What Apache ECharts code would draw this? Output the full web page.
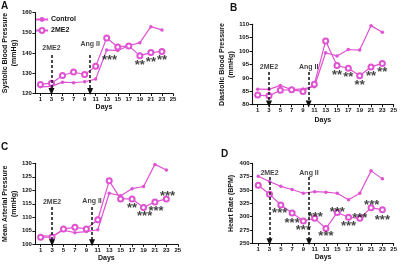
<!DOCTYPE html>
<html>
<head>
<meta charset="utf-8">
<script src="https://cdn.jsdelivr.net/npm/echarts@6/dist/echarts.min.js"></script>
<style>
html,body{margin:0;padding:0;background:#fff;}
#chart{width:400px;height:265px;}
</style>
</head>
<body>
<div id="chart"></div>
<script>
// days of measurement, and x tick labels
var days = [1, 3, 5, 7, 9, 11, 13, 15, 17, 19, 21, 23];
var dayTicks = [1, 3, 5, 7, 9, 11, 13, 15, 17, 19, 21, 23, 25];

/** A - systolic */
var sbpControl = [123.3, 123.5, 125.6, 125.3, 125.8, 127.1, 141.5, 141.2, 143.6, 145.1, 153.0, 151.4];
var sbp2ME2 = [124.5, 125.1, 128.9, 130.6, 129.4, 133.4, 147.4, 143.0, 143.5, 138.7, 140.2, 140.8];
/** B - diastolic */
var dbpControl = [85.8, 85.7, 87.2, 85.6, 85.9, 86.7, 99.4, 98.2, 100.6, 100.4, 109.5, 107.0];
var dbp2ME2 = [83.6, 83.3, 85.4, 85.6, 84.9, 87.6, 103.8, 94.6, 93.6, 90.8, 94.1, 95.4];
/** C - mean arterial */
var mapControl = [103.1, 103.0, 105.2, 104.3, 104.7, 105.4, 118.9, 118.0, 120.6, 121.4, 129.6, 127.5];
var map2ME2 = [102.6, 102.7, 105.7, 106.3, 105.7, 109.1, 123.5, 116.8, 116.8, 113.6, 115.7, 116.8];
/** D - heart rate */
var hrControl = [376, 366, 357, 351, 344, 347, 346, 344, 332, 344, 386, 371];
var hr2ME2 = [359, 342, 322, 307, 292, 297, 278, 308, 299, 297, 317, 313];

// significance marks [day, value, text]
var sigA = [[13.5, 137.9, '***'], [19, 135.4, '**'], [21, 137.0, '**'], [23, 137.9, '**']];
var sigB = [[15, 92.3, '**'], [17, 91.4, '**'], [19, 88.3, '**'], [21, 91.8, '**'], [23, 93.2, '**']];
var sigC = [[17, 114.3, '**'], [19.2, 111.5, '***'], [21.2, 113.2, '***'], [23.2, 118.9, '***']];
var sigD = [[4.8, 312.6, '***'], [7, 293.9, '***'], [9, 279.4, '***'], [11.1, 305.0, '***'], [13, 268.9, '***'],
            [15, 314.5, '***'], [17, 287.6, '***'], [19, 303.2, '***'], [21.1, 326.3, '***'], [23, 298.9, '***']];

// treatments: day and name
var treatDays = [3, 10];
var treatNames = ['2ME2', 'Ang II'];
// per panel: text value for each treatment, arrow top, arrow tip
var treatTextY = [[142.6, 144.6], [94.2, 94.2], [115.8, 116.0], [381.4, 381.4]];
var arrowTop = [139, 92.2, 113.8, 374.5];
var arrowTip = [121.0, 80.3, 100.6, 253];

var panelNames = ['A', 'B', 'C', 'D'];
var yTitles = ['Systolic Blood Pressure\n(mmHg)', 'Diastolic Blood Pressure\n(mmHg)', 'Mean Arterial Pressure\n(mmHg)', 'Heart Rate (BPM)'];
var yMin = [120, 80, 100, 250];
var yMax = [160, 110, 130, 400];
var yStep = [10, 5, 5, 25];

var controls = [sbpControl, dbpControl, mapControl, hrControl];
var treated = [sbp2ME2, dbp2ME2, map2ME2, hr2ME2];
var sigs = [sigA, sigB, sigC, sigD];

var pink = '#e052d2';
var font = 'Liberation Sans, Arial, sans-serif';

var grids = [
    {left: 32, top: 12.5, width: 141, height: 81},
    {left: 252, top: 24.3, width: 144, height: 80.4},
    {left: 34.3, top: 163.3, width: 143.5, height: 81},
    {left: 252.6, top: 163.4, width: 142.5, height: 80}
];
var yNameGap = [14, 16, 16, 15];
var xNameGap = [10, 12, 10, 10];
var titlePos = [[1, 1], [230, 3], [1, 142], [221, 149]];

function pairs(arr) {
    var res = [];
    for (var i = 0; i < days.length; i++) res.push([days[i], arr[i]]);
    return res;
}

var xAxes = [], yAxes = [], series = [], titles = [];
for (var p = 0; p < 4; p++) {
    titles.push({
        text: panelNames[p], left: titlePos[p][0], top: titlePos[p][1], padding: 0,
        textStyle: {fontSize: 10, fontWeight: 'bold', fontFamily: font, color: '#111'}
    });
    xAxes.push({
        type: 'value', gridIndex: p, min: 0, max: 25,
        name: 'Days', nameLocation: 'middle', nameGap: xNameGap[p],
        nameTextStyle: {fontSize: 7, fontWeight: 'bold', fontFamily: font, color: '#111'},
        axisLine: {lineStyle: {color: '#111', width: 1.1}},
        axisTick: {length: 2.5, customValues: dayTicks, lineStyle: {color: '#111'}},
        axisLabel: {customValues: dayTicks, fontSize: 6, fontWeight: 'bold', fontFamily: font, color: '#111', margin: 3},
        splitLine: {show: false}
    });
    yAxes.push({
        type: 'value', gridIndex: p, min: yMin[p], max: yMax[p], interval: yStep[p],
        name: yTitles[p], nameLocation: 'middle', nameGap: yNameGap[p],
        nameTextStyle: {fontSize: 7, fontWeight: 'bold', fontFamily: font, color: '#111', lineHeight: 8.5},
        axisLine: {show: true, lineStyle: {color: '#111', width: 1.1}},
        axisTick: {show: true, length: 2.5, lineStyle: {color: '#111'}},
        axisLabel: {fontSize: 6, fontWeight: 'bold', fontFamily: font, color: '#111', margin: 3},
        splitLine: {show: false}
    });
    series.push({
        name: 'Control', type: 'line', xAxisIndex: p, yAxisIndex: p,
        data: pairs(controls[p]), symbol: 'circle', symbolSize: 3.5,
        lineStyle: {color: pink, width: 1.2}, itemStyle: {color: pink}, z: 3
    });
    series.push({
        name: '2ME2', type: 'line', xAxisIndex: p, yAxisIndex: p,
        data: pairs(treated[p]), symbol: 'emptyCircle', symbolSize: 5,
        lineStyle: {color: pink, width: 1.2}, itemStyle: {color: pink, borderWidth: 1.3}, z: 4
    });
    // stars
    series.push({
        type: 'scatter', xAxisIndex: p, yAxisIndex: p, symbolSize: 0, silent: true,
        data: sigs[p],
        label: {
            show: true, position: 'inside', offset: [0, 3.2],
            formatter: function (d) { return d.value[2]; },
            fontSize: 13, fontWeight: 'bold', fontFamily: font, color: '#111'
        }, z: 5
    });
    // treatment labels and dashed arrows
    var txt = [], lines = [];
    for (var t = 0; t < treatDays.length; t++) {
        txt.push([treatDays[t], treatTextY[p][t], treatNames[t]]);
        lines.push([{coord: [treatDays[t], arrowTop[p]]}, {coord: [treatDays[t], arrowTip[p]]}]);
    }
    series.push({
        type: 'scatter', xAxisIndex: p, yAxisIndex: p, symbolSize: 0, silent: true,
        data: txt,
        label: {
            show: true, position: 'inside',
            formatter: function (d) { return d.value[2]; },
            fontSize: 7, fontWeight: 'bold', fontFamily: font, color: '#111'
        },
        markLine: {
            silent: true, symbol: ['none', 'triangle'], symbolSize: [6, 7],
            label: {show: false},
            lineStyle: {type: [3, 2], color: '#111', width: 1.5},
            data: lines
        }, z: 6
    });
}

var myChart = echarts.init(document.getElementById('chart'), null, {renderer: 'canvas'});
var option = {
    animation: false,
    backgroundColor: '#fff',
    title: titles,
    legend: {
        data: ['Control', '2ME2'], orient: 'vertical', left: 35, top: 16,
        itemWidth: 12, itemHeight: 6, itemGap: 4, padding: 0,
        textStyle: {fontSize: 7, fontWeight: 'bold', fontFamily: font, color: '#111', padding: [0, 0, 0, -2]}
    },
    grid: grids,
    xAxis: xAxes,
    yAxis: yAxes,
    series: series
};
myChart.setOption(option);
</script>
</body>
</html>
